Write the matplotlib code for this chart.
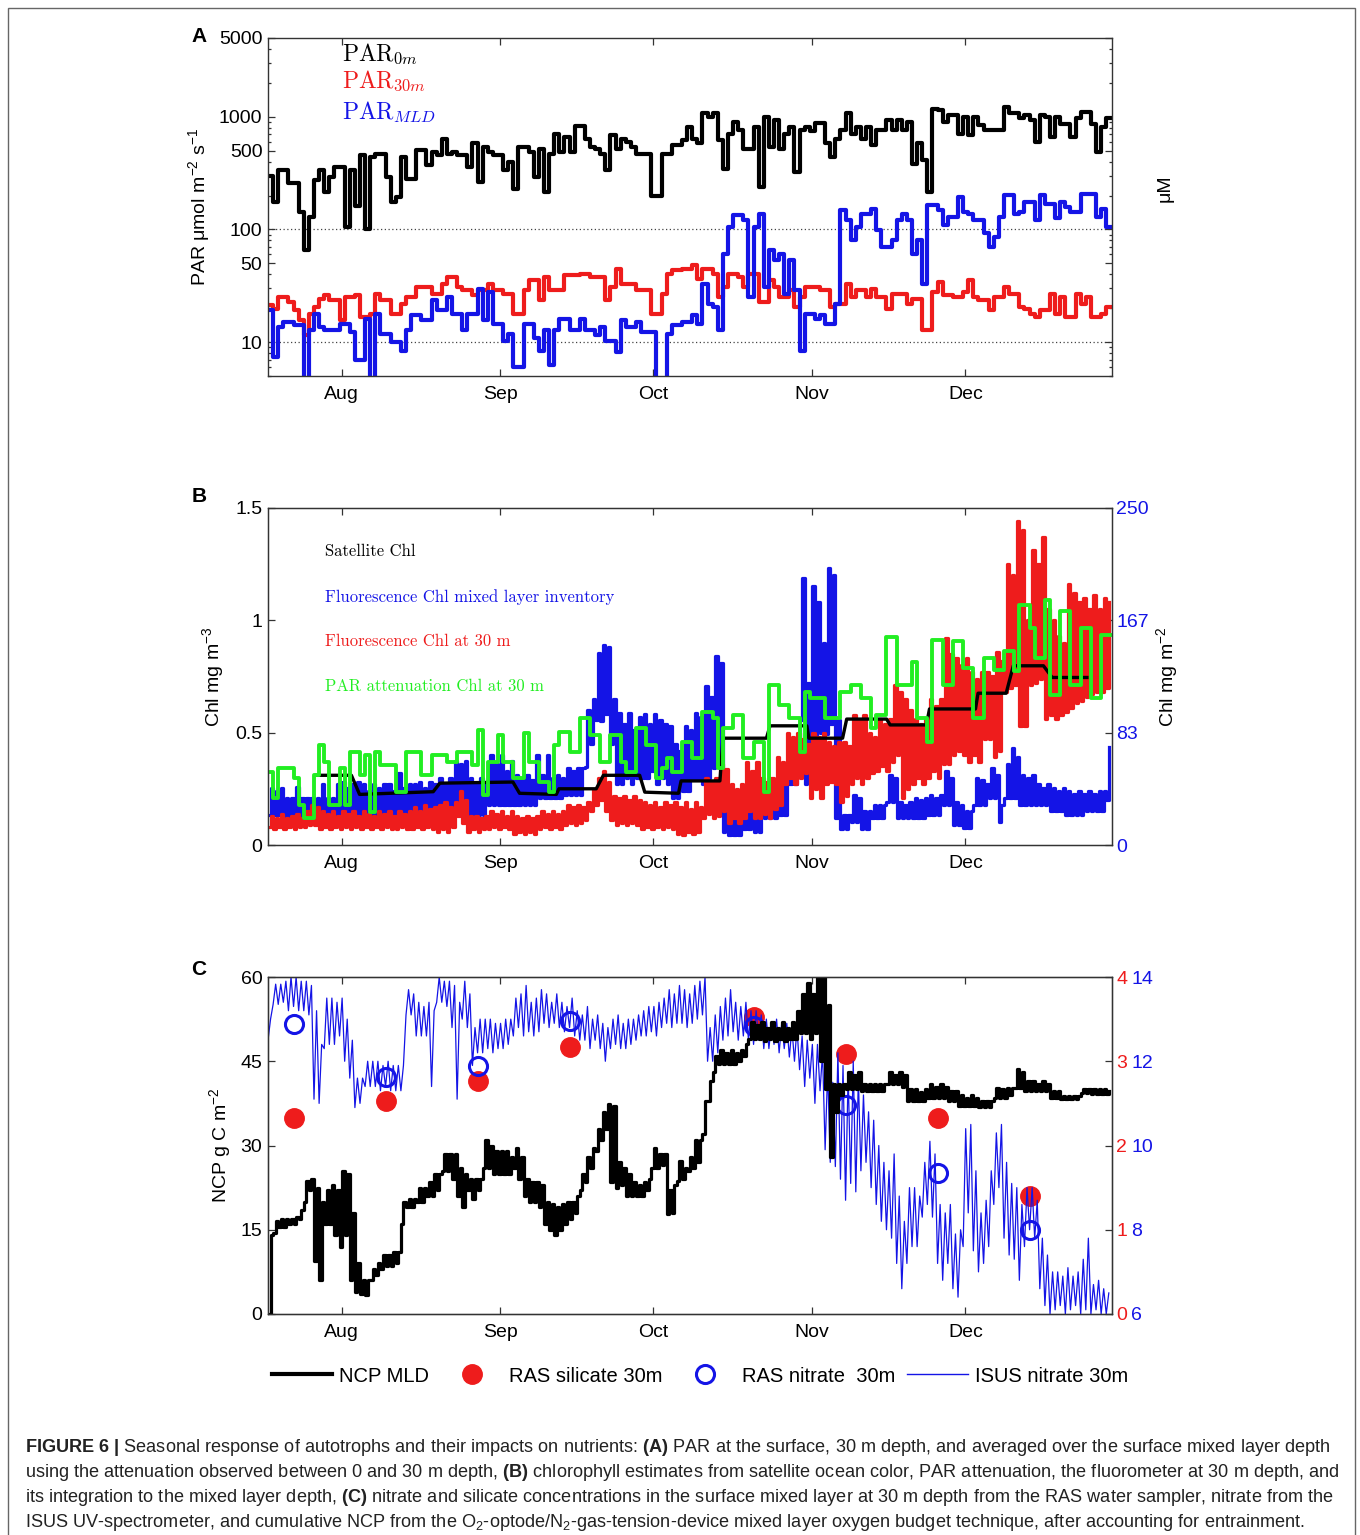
import numpy as np
import pandas as pd
import matplotlib
matplotlib.use('Agg')
import matplotlib.pyplot as plt
import matplotlib.dates as mdates
from matplotlib.lines import Line2D
from matplotlib.patches import Rectangle
from matplotlib.ticker import LogLocator, NullFormatter

plt.rcParams['font.family'] = ['Liberation Sans', 'DejaVu Sans']
plt.rcParams['mathtext.fontset'] = 'custom'
plt.rcParams['mathtext.rm'] = 'Liberation Sans'
plt.rcParams['mathtext.it'] = 'Liberation Sans:italic'
plt.rcParams['mathtext.bf'] = 'Liberation Sans:bold'
plt.rcParams['mathtext.default'] = 'regular'

RED = '#ee1c1c'
BLUE = '#1414e6'
GREEN = '#22ee22'

# ---------------- data (daily values starting at the left edge of the plots, ~17 Jul) ----------------
# panel A: PAR (umol m-2 s-1), daily steps
par_0m = [300, 175, 336, 336, 256, 256, 143, 65, 129, 273,
          336, 215, 291, 360, 360, 105, 336, 160, 455, 100,
          443, 470, 470, 290, 175, 195, 443, 281, 281, 504,
          504, 370, 490, 455, 640, 470, 490, 455, 455, 360,
          580, 263, 540, 490, 455, 455, 336, 400, 230, 540,
          540, 490, 290, 520, 215, 470, 710, 490, 665, 490,
          830, 830, 640, 540, 520, 470, 336, 685, 520, 640,
          600, 540, 470, 470, 470, 200, 200, 470, 470, 560,
          560, 617, 815, 640, 580, 1070, 1000, 1070, 617, 345,
          710, 900, 760, 520, 520, 815, 240, 1000, 540, 935,
          520, 710, 815, 325, 760, 815, 740, 880, 880, 580,
          443, 640, 760, 1070, 710, 815, 640, 815, 560, 760,
          760, 935, 760, 935, 760, 900, 380, 580, 412, 215,
          1180, 1140, 900, 1030, 1030, 710, 1000, 690, 1000, 840,
          760, 760, 760, 760, 1230, 1070, 1070, 970, 1030, 935,
          600, 1030, 1000, 664, 1000, 870, 870, 664, 970, 1110,
          1110, 870, 490, 810, 970]
par_30m = [21.2, 19.8, 25.1, 25.1, 22.7, 19.1, 15.6, 11.5, 17.9, 20.5,
           24.3, 26, 23.5, 23.5, 15.6, 25.1, 25.1, 26, 16.7, 16.7,
           17.9, 26.9, 23.5, 23.5, 17.9, 17.9, 21.9, 25.1, 25.1, 30.8,
           30.8, 30.8, 26.9, 26.9, 33, 37.9, 37.9, 30.8, 28.8, 28.8,
           26, 28.8, 28.8, 33, 28.8, 28.8, 26.9, 26.9, 17.9, 17.9,
           28.8, 35.3, 35.3, 23.5, 37.9, 28.8, 28.8, 28.8, 39.1, 39.1,
           39.1, 40.5, 40.5, 37.9, 37.9, 37.9, 23.5, 30.8, 44.8, 33,
           33, 33, 28.8, 28.8, 28.8, 17.9, 17.9, 26.9, 40.5, 43.4,
           43.4, 44.8, 44.8, 48, 36.6, 44.8, 44.8, 40.5, 25.1, 30.8,
           40.5, 40.5, 37.9, 30.8, 40.5, 40.5, 22.7, 22.7, 35.3, 30.8,
           25.1, 25.1, 28.8, 20.5, 25.1, 30.8, 30.8, 30.8, 28.8, 28.8,
           20.5, 21.9, 21.9, 33, 25.1, 28.8, 28.8, 25.1, 29.8, 25.1,
           25.1, 19.8, 26.9, 26.9, 26.9, 21.9, 24.3, 24.3, 12.7, 12.7,
           27.8, 34.2, 26, 26, 25.1, 25.1, 27.8, 35.3, 25.1, 23.5,
           23.5, 19.1, 25.1, 25.1, 30.8, 26.9, 26.9, 20.5, 19.8, 17.9,
           16.7, 19.1, 19.1, 26.9, 17.9, 25.1, 16.7, 16.7, 26.9, 21.9,
           25.1, 16.7, 16.7, 17.9, 20.5]
par_mld = [19.1, 7.35, 13.6, 15.0, 15.0, 14.1, 14.1, 4, 12.7, 17.9,
           13.6, 12.7, 12.7, 12.7, 14.6, 14.6, 12.2, 6.9, 6.9, 16.1,
           4, 17.9, 11.8, 11.8, 10, 10, 8.4, 12.7, 17.3, 17.3,
           15.6, 15.6, 23.5, 19.1, 19.1, 25.1, 17.9, 17.9, 12.7, 17.9,
           17.9, 29.8, 15.6, 27.8, 14.6, 14.6, 10.3, 11.8, 6.0, 6.0,
           14.6, 14.6, 10.8, 8.4, 12.7, 6.2, 12.7, 16.1, 16.1, 12.7,
           12.7, 16.1, 12.7, 12.7, 11.5, 13.6, 10.3, 10.3, 8.15, 15.6,
           13.6, 13.6, 15.0, 12.2, 12.2, 12.2, 4, 4, 11.8, 14.1,
           14.1, 15.0, 15.0, 17.3, 14.6, 33, 21.9, 20.5, 12.7, 61,
           105, 134, 134, 121, 25.1, 105, 138, 30.8, 65, 53,
           61, 26.9, 53, 28.8, 8.4, 17.9, 17.9, 16.1, 17.3, 14.6,
           14.6, 21.9, 148, 121, 80, 105, 138, 138, 153, 98,
           70, 70, 80, 121, 138, 121, 61, 80, 33, 164,
           164, 148, 109, 128, 128, 195, 143, 138, 121, 121,
           92, 70, 86, 128, 201, 201, 138, 143, 175, 175,
           121, 201, 169, 169, 125, 175, 158, 143, 143, 208,
           208, 208, 128, 153, 105]

# panel B: chlorophyll
par_chl_30m = [0.326, 0.208, 0.341, 0.341, 0.341, 0.297, 0.178, 0.119, 0.119, 0.312,
               0.445, 0.371, 0.178, 0.178, 0.341, 0.178, 0.415, 0.415, 0.312, 0.40,
               0.148, 0.415, 0.356, 0.356, 0.356, 0.237, 0.237, 0.415, 0.415, 0.415,
               0.312, 0.312, 0.40, 0.40, 0.40, 0.371, 0.371, 0.415, 0.415, 0.415,
               0.356, 0.512, 0.223, 0.371, 0.371, 0.49, 0.371, 0.371, 0.297, 0.297,
               0.497, 0.371, 0.371, 0.282, 0.282, 0.237, 0.445, 0.504, 0.504, 0.415,
               0.415, 0.564, 0.564, 0.49, 0.49, 0.371, 0.371, 0.49, 0.49, 0.371,
               0.326, 0.326, 0.519, 0.519, 0.445, 0.445, 0.297, 0.341, 0.386, 0.326,
               0.326, 0.46, 0.46, 0.386, 0.386, 0.593, 0.593, 0.564, 0.341, 0.519,
               0.519, 0.579, 0.579, 0.386, 0.386, 0.46, 0.46, 0.237, 0.712, 0.712,
               0.623, 0.623, 0.564, 0.564, 0.415, 0.682, 0.653, 0.653, 0.653, 0.564,
               0.564, 0.564, 0.682, 0.682, 0.712, 0.712, 0.653, 0.653, 0.519, 0.579,
               0.579, 0.927, 0.927, 0.712, 0.712, 0.712, 0.816, 0.564, 0.564, 0.46,
               0.912, 0.912, 0.712, 0.712, 0.905, 0.905, 0.786, 0.786, 0.564, 0.564,
               0.831, 0.831, 0.779, 0.779, 0.861, 0.861, 0.772, 1.068, 1.068, 0.964,
               0.831, 0.831, 1.09, 0.668, 0.668, 1.039, 1.039, 0.712, 0.712, 0.964,
               0.964, 0.653, 0.653, 0.935, 0.935]

# satellite chl: day of season (days after 1 Jul) and value
sat_days = [26.1, 32.9, 34.5, 48.9, 50.2, 64.5, 65.8, 73.0, 73.5, 80.8, 82.2, 89.3,
            90.3, 96.9, 97.4, 105.0, 105.6, 114.1, 114.8, 122.0, 122.4, 129.0, 129.8,
            137.6, 138.3, 145.4, 146.0, 155.0, 155.5, 161.0, 162.4, 168.3, 170.0, 176.8]
sat_chl = [0.31, 0.31, 0.225, 0.237, 0.275, 0.28, 0.23, 0.225, 0.25, 0.25, 0.31, 0.31,
           0.235, 0.23, 0.285, 0.285, 0.475, 0.475, 0.53, 0.53, 0.475, 0.475, 0.56,
           0.56, 0.534, 0.534, 0.605, 0.605, 0.675, 0.675, 0.797, 0.797, 0.745, 0.745]

# fluorescence chl mixed layer inventory (mg m-2): daily low / high
inv_lo = [22, 22, 22, 20, 20, 20, 20, 20, 20, 20,
          20, 20, 20, 22, 22, 22, 22, 22, 22, 22,
          22, 22, 22, 20, 20, 20, 20, 20, 20, 20,
          20, 20, 20, 25, 25, 25, 25, 25, 22, 22,
          22, 22, 22, 30, 30, 30, 30, 30, 30, 30,
          30, 30, 30, 35, 35, 35, 35, 35, 37, 37,
          37, 37, 58, 75, 93, 92, 97, 75, 45, 45,
          50, 45, 50, 50, 50, 55, 45, 50, 45, 35,
          35, 40, 40, 50, 50, 45, 50, 57, 60, 10,
          7.5, 7.5, 7.5, 12, 12, 10, 10, 20, 20, 20,
          22, 22, 45, 45, 93, 45, 68, 70, 83, 82,
          90, 20, 12, 12, 17, 17, 12, 12, 20, 20,
          20, 32, 32, 20, 20, 20, 20, 20, 20, 22,
          22, 22, 30, 30, 15, 15, 12.5, 12.5, 30, 30,
          30, 35, 35, 17, 35, 35, 35, 30, 30, 30,
          30, 30, 30, 25, 25, 25, 22, 22, 22, 22,
          25, 25, 25, 25, 33]
inv_hi = [42, 40, 42, 35, 35, 43, 35, 35, 35, 35,
          45, 35, 35, 45, 47, 42, 45, 47, 45, 40,
          45, 42, 45, 45, 40, 53, 42, 45, 45, 47,
          42, 47, 45, 50, 45, 50, 62, 60, 62, 50,
          45, 50, 45, 67, 60, 67, 55, 62, 52, 50,
          52, 48, 67, 52, 67, 50, 52, 50, 57, 55,
          57, 57, 100, 108, 142, 148, 147, 108, 98, 90,
          98, 85, 95, 97, 90, 97, 93, 90, 88, 75,
          70, 88, 85, 98, 95, 118, 110, 140, 135, 32,
          22, 20, 22, 30, 28, 30, 28, 37, 35, 37,
          52, 50, 78, 75, 198, 120, 192, 180, 150, 205,
          200, 93, 22, 22, 37, 35, 25, 25, 30, 30,
          30, 52, 50, 32, 30, 32, 35, 33, 35, 37,
          35, 37, 55, 50, 32, 30, 25, 25, 50, 48,
          45, 57, 52, 30, 60, 72, 65, 52, 50, 52,
          45, 42, 45, 42, 40, 42, 40, 38, 40, 38,
          40, 38, 40, 40, 73]

# fluorescence chl at 30 m (mg m-3): daily low / high
fl_lo = [.08, .07, .08, .07, .08, .07, .08, .08, .09, .09,
         .07, .08, .07, .08, .07, .08, .07, .08, .07, .08,
         .07, .08, .07, .08, .07, .07, .08, .07, .07, .08,
         .07, .08, .07, .06, .07, .06, .08, .13, .10, .06,
         .07, .06, .07, .07, .08, .07, .08, .07, .05, .06,
         .05, .06, .05, .07, .08, .07, .08, .07, .09, .10,
         .09, .10, .11, .15, .18, .20, .15, .11, .09, .10,
         .09, .10, .09, .07, .08, .07, .08, .07, .08, .07,
         .05, .045, .06, .05, .06, .12, .14, .12, .13, .15,
         .10, .12, .10, .12, .15, .12, .12, .14, .12, .16,
         .18, .27, .30, .27, .30, .32, .21, .25, .21, .27,
         .28, .27, .19, .22, .27, .30, .27, .30, .32, .33,
         .35, .33, .37, .40, .21, .25, .27, .30, .27, .30,
         .33, .30, .36, .36, .40, .42, .40, .37, .40, .37,
         .47, .47, .39, .42, .68, .70, .71, .53, .53, .71,
         .72, .74, .56, .58, .56, .58, .59, .61, .63, .64,
         .66, .67, .68, .68, .70]
fl_hi = [.13, .12, .14, .12, .13, .14, .12, .15, .18, .17,
         .15, .14, .15, .13, .15, .14, .15, .13, .15, .14,
         .13, .15, .14, .15, .13, .15, .14, .15, .17, .15,
         .18, .16, .17, .18, .19, .17, .19, .24, .20, .13,
         .13, .12, .13, .15, .14, .15, .13, .15, .13, .12,
         .13, .12, .13, .15, .14, .15, .14, .15, .18, .17,
         .18, .17, .19, .25, .30, .33, .28, .22, .21, .22,
         .20, .22, .20, .19, .18, .19, .17, .19, .18, .19,
         .17, .19, .16, .19, .17, .30, .28, .30, .36, .34,
         .27, .25, .27, .37, .33, .37, .30, .28, .30, .39,
         .37, .50, .48, .50, .47, .45, .50, .48, .50, .46,
         .44, .46, .46, .44, .58, .55, .58, .50, .48, .56,
         .54, .56, .71, .68, .65, .60, .56, .54, .56, .65,
         .62, .65, .92, .85, .83, .80, .83, .77, .74, .77,
         .77, .75, .86, .82, 1.25, 1.20, 1.44, 1.40, 1.00, 1.31,
         1.25, 1.37, 1.05, 1.00, .93, .90, 1.16, 1.12, 1.08, 1.10,
         1.05, 1.11, 1.05, 1.10, 1.08]

# panel C: cumulative NCP (g C m-2): daily low / high
ncp_lo = [0, 14.5, 15.5, 15.5, 16, 16, 17, 20, 22, 9.5,
          6, 16, 16, 14, 12, 14, 6, 4, 3.5, 3.3,
          6, 7, 8, 8.5, 8.5, 9, 16, 19, 19, 20,
          20, 21, 21, 22, 25.5, 25.5, 24, 21, 19, 22,
          20.5, 22, 26, 26, 25, 25, 25, 25, 26, 24,
          21, 20, 20, 19, 16, 15, 14, 15, 16, 17,
          18, 22, 23.5, 26, 29, 31, 33, 23.5, 22.5, 23,
          21, 21, 21, 21, 22, 26, 26, 26.6, 17.8, 18,
          23.7, 24, 25.5, 26, 27, 32, 38, 43, 44.5, 44.5,
          44.5, 44.5, 45, 46, 49, 49, 49, 48.6, 49, 48.6,
          49, 48.6, 49, 49, 50, 50, 49, 50, 45, 40,
          28, 36, 39, 40, 40, 40, 39.7, 39.7, 39.7, 39.7,
          39.7, 41, 41, 41, 40.5, 38, 38, 38, 38, 38.5,
          38.5, 38.5, 38.5, 38, 38, 37, 37, 37, 37, 36.8,
          36.8, 36.8, 38.5, 38.5, 38.5, 39, 40.3, 40.3, 39.7, 39.7,
          39.7, 39.7, 39.7, 38.5, 38.5, 38.2, 38.2, 38.2, 38.2, 39.4,
          39.4, 39.1, 39.1, 39.1, 39.1]
ncp_hi = [14, 16.5, 17, 17, 17, 17.2, 18.5, 23.7, 24, 22.5,
          20, 22, 23, 22, 25.5, 25, 18, 9, 6, 6,
          8, 9, 10.5, 10.5, 11, 11, 20, 20.5, 20.5, 22.5,
          22.5, 23.5, 25, 25, 28.5, 28.5, 28.5, 26, 25, 24,
          24, 24, 31, 30, 29, 29, 29, 28, 29.5, 28,
          24, 23.5, 23.5, 23, 20, 19.5, 19, 19.5, 20, 20,
          21, 25, 28, 29.6, 33, 36, 37.3, 37, 27, 26,
          25, 23.5, 23, 23.5, 24, 29.5, 28.5, 28.5, 22, 23,
          27.3, 26, 28, 31, 31, 38, 41.5, 46, 47, 46.5,
          47, 46.5, 47, 48, 52, 51.5, 52, 51, 52, 51,
          52, 51, 52, 54, 57, 59, 57, 60, 60, 55,
          41, 41, 41, 43, 42.5, 43, 40.9, 40.9, 40.9, 40.9,
          40.9, 43, 42.5, 43, 42.5, 40, 40, 39.5, 40, 41,
          40.5, 41, 40.5, 39.7, 39.7, 39, 38.5, 39, 38.5, 38,
          38, 38, 40.3, 40, 40.3, 40.3, 43.6, 43, 41.5, 41.5,
          41, 41.5, 41, 39.7, 39.7, 38.9, 38.9, 38.9, 38.9, 40,
          40, 40, 40, 40, 39.7]

# ISUS nitrate at 30 m (uM): daily low / high
isus_lo = [12.5, 13.35, 13.35, 13.4, 13.2, 13.3, 13.2, 13.2, 13.1, 11.1,
           11.0, 12.3, 12.4, 12.4, 12.6, 12.0, 11.6, 10.9, 11.0, 11.4,
           11.4, 11.4, 11.3, 11.4, 11.3, 11.3, 11.3, 13.1, 13.1, 12.6,
           12.6, 12.6, 11.4, 13.4, 13.4, 13.3, 12.8, 11.1, 13.0, 12.8,
           11.9, 12.2, 12.2, 12.3, 12.2, 12.3, 12.3, 12.4, 12.6, 12.8,
           12.6, 12.7, 12.6, 12.7, 12.9, 12.8, 12.9, 12.8, 12.7, 12.8,
           12.6, 12.5, 12.5, 12.3, 12.5, 12.3, 12.0, 12.3, 12.4, 12.3,
           12.3, 12.4, 12.5, 12.6, 12.6, 12.7, 12.6, 12.8, 12.9, 12.8,
           12.9, 12.9, 12.8, 12.9, 13.0, 13.1, 12.0, 12.0, 12.2, 12.5,
           12.6, 12.7, 12.5, 12.6, 12.5, 12.4, 12.5, 12.3, 12.3, 12.4,
           12.2, 12.3, 12.1, 12.0, 11.8, 11.4, 11.6, 11.0, 11.3, 9.9,
           9.6, 9.5, 9.2, 8.7, 9.1, 8.9, 9.4, 9.6, 9.0, 8.6,
           8.2, 8.0, 7.8, 7.2, 6.6, 7.2, 7.6, 7.6, 8.3, 8.6,
           8.3, 7.2, 6.8, 7.2, 6.6, 6.4, 7.6, 8.4, 7.5, 7.0,
           7.2, 7.6, 8.6, 9.0, 7.8, 7.4, 7.3, 6.8, 7.6, 8.0,
           7.8, 6.6, 6.2, 6.0, 6.1, 6.2, 6.0, 6.1, 6.2, 6.0,
           6.1, 6.0, 6.1, 6.0, 6.0]
isus_hi = [13.0, 13.83, 13.83, 13.9, 14.0, 14.0, 13.9, 13.9, 13.8, 13.2,
           12.4, 13.5, 13.5, 13.4, 13.5, 13.0, 12.5, 11.6, 11.6, 12.0,
           12.0, 12.0, 11.9, 12.0, 11.9, 11.9, 11.9, 13.7, 13.6, 13.4,
           13.3, 13.4, 13.2, 14.0, 13.9, 13.9, 13.8, 13.4, 13.9, 13.6,
           12.8, 13.0, 13.0, 13.0, 12.9, 12.9, 13.0, 13.0, 13.5, 13.6,
           13.8, 13.4, 13.5, 13.7, 13.6, 13.4, 13.6, 13.4, 13.3, 13.5,
           13.2, 13.1, 13.3, 13.0, 13.1, 12.9, 12.8, 13.0, 13.1, 12.9,
           13.0, 13.0, 13.1, 13.2, 13.3, 13.3, 13.4, 13.5, 13.7, 13.6,
           13.8, 13.7, 13.6, 13.8, 13.9, 14.0, 12.8, 13.1, 13.3, 13.5,
           13.7, 13.4, 13.3, 13.4, 13.2, 13.2, 13.1, 13.0, 12.9, 13.0,
           12.9, 12.9, 12.8, 12.8, 12.6, 12.5, 12.4, 12.4, 12.2, 11.8,
           11.5, 12.2, 11.9, 11.7, 12.0, 11.6, 11.2, 10.8, 10.6, 10.0,
           9.6, 9.4, 9.8, 8.8, 8.2, 9.0, 9.0, 8.8, 9.6, 10.1,
           9.8, 8.6, 8.4, 8.6, 7.9, 8.0, 10.4, 10.5, 9.4, 8.4,
           8.7, 9.4, 10.3, 10.5, 9.6, 9.1, 9.0, 8.6, 9.0, 9.0,
           8.7, 7.8, 7.4, 7.0, 7.0, 6.9, 7.1, 6.9, 7.0, 7.3,
           7.8, 6.7, 6.8, 6.6, 6.5]

# RAS water sampler (days after 1 Jul)
ras_days = [21.7, 39.7, 57.7, 75.6, 111.6, 129.6, 147.6, 165.6]
ras_silicate = [2.33, 2.53, 2.77, 3.17, 3.53, 3.09, 2.33, 1.40]
ras_nitrate = [12.88, 11.63, 11.89, 12.96, 12.84, 10.97, 9.34, 8.00]

# ---------------- helpers ----------------
W, H = 1360, 1535
season_start = pd.Timestamp('2013-07-01')
t_left = pd.Timestamp('2013-07-17 14:00')
t_right = pd.Timestamp('2013-12-29 17:00')


def to_dates(days):
    return season_start + pd.to_timedelta(days, unit='D')


def steps(vals):
    x = pd.date_range(t_left, periods=len(vals) + 1, freq='D')
    return x, np.append(vals, vals[-1])


def zigzag(lo, hi):
    x = pd.date_range(t_left, periods=2 * len(lo), freq='12h')
    return x, np.column_stack([lo, hi]).ravel()


def box(x0, y0, x1, y1):
    return [x0 / W, 1 - y1 / H, (x1 - x0) / W, (y1 - y0) / H]


def style(ax, right=True):
    ax.set_xlim(t_left, t_right)
    ax.xaxis.set_major_locator(mdates.MonthLocator())
    ax.xaxis.set_major_formatter(mdates.DateFormatter('%b'))
    ax.tick_params(which='both', direction='in', top=True, right=right,
                   labelsize=14, width=0.9, color='#333333')
    ax.tick_params(which='major', length=5)
    ax.tick_params(which='minor', length=2.5)
    ax.tick_params(axis='x', pad=7)
    ax.tick_params(axis='y', pad=4)
    for sp in ax.spines.values():
        sp.set_color('#333333')
        sp.set_linewidth(1)


fig = plt.figure(figsize=(13.6, 15.35), dpi=100)
fig.patches.append(Rectangle((8 / W, -0.01), 1347 / W, 1 - 8 / H + 0.01,
                             transform=fig.transFigure, fill=False,
                             ec='#666666', lw=1))

# ---------------- panel A ----------------
axA = fig.add_axes(box(268, 38, 1112, 376))
for vals, col in [(par_0m, 'black'), (par_30m, RED), (par_mld, BLUE)]:
    x, y = steps(vals)
    axA.step(x, y, where='post', color=col, lw=3.0)
axA.set_yscale('log')
axA.set_ylim(5, 5000)
for yref in (10, 100):
    axA.axhline(yref, color='#444444', ls=(0, (1, 2)), lw=0.9, zorder=0.5)
axA.set_yticks([10, 50, 100, 500, 1000, 5000],
               labels=['10', '50', '100', '500', '1000', '5000'])
axA.yaxis.set_minor_locator(LogLocator(subs=np.arange(2, 10)))
axA.yaxis.set_minor_formatter(NullFormatter())
style(axA)
axA.set_ylabel('PAR μmol m$^{-2}$ s$^{-1}$', fontsize=14, va='center')
axA.yaxis.set_label_coords(-0.0818, 0.5)
for txt, col, yy in [(r'$\mathrm{PAR}_{\mathrm{0}\mathit{m}}$', 'black', 0.9328),
                     (r'$\mathrm{PAR}_{\mathrm{30}\mathit{m}}$', RED, 0.8512),
                     (r'$\mathrm{PAR}_{\mathit{MLD}}$', BLUE, 0.7595)]:
    axA.text(0.0873, yy, txt, color=col, fontsize=17, math_fontfamily='cm',
             transform=axA.transAxes, va='baseline', ha='left')
fig.text(1165 / W, 1 - 188 / H, 'μM', rotation=90, fontsize=14,
         ha='center', va='center')

# ---------------- panel B ----------------
axB = fig.add_axes(box(268, 507.7, 1112, 845))
axB2 = axB.twinx()
axB2.set_zorder(axB.get_zorder() - 1)
axB.patch.set_visible(False)
x, y = zigzag(inv_lo, inv_hi)
axB2.plot(x, y, color=BLUE, lw=2.3, drawstyle='steps-post')
axB2.set_ylim(0, 250)
x, y = zigzag(fl_lo, fl_hi)
axB.plot(x, y, color=RED, lw=2.3, drawstyle='steps-post')
axB.plot(to_dates(sat_days), sat_chl, color='black', lw=2.4)
x, y = steps(par_chl_30m)
axB.step(x, y, where='post', color=GREEN, lw=2.8)
axB.set_ylim(0, 1.5)
axB.set_yticks([0, 0.5, 1, 1.5], labels=['0', '0.5', '1', '1.5'])
style(axB, right=False)
axB2.set_yticks([0, 250 / 3, 500 / 3, 250], labels=['0', '83', '167', '250'])
axB2.tick_params(axis='y', direction='in', length=5, width=0.9, color='#333333',
                 labelcolor=BLUE, labelsize=14, pad=3)
for sp in axB2.spines.values():
    sp.set_color('#333333')
axB.set_ylabel('Chl mg m$^{-3}$', fontsize=14, va='center')
axB.yaxis.set_label_coords(-0.0652, 0.5)
axB2.set_ylabel('Chl mg m$^{-2}$', fontsize=14, va='center', rotation=90)
axB2.yaxis.set_label_coords(1.0652, 0.5)
for txt, col, yy in [('Satellite Chl', 'black', 0.8696),
                     ('Fluorescence Chl mixed layer inventory', BLUE, 0.7362),
                     ('Fluorescence Chl at 30 m', RED, 0.6028),
                     ('PAR attenuation Chl at 30 m', GREEN, 0.4694)]:
    axB.text(0.0675, yy, txt, color=col, fontsize=12, family='cmr10',
             transform=axB.transAxes, va='center', ha='left')

# ---------------- panel C ----------------
axC = fig.add_axes(box(268, 977, 1112, 1314))
axSi = axC.twinx()
axNo = axC.twinx()
axSi.set_zorder(1)
axNo.set_zorder(2)
axC.set_zorder(3)
axC.patch.set_visible(False)
axSi.plot(to_dates(ras_days), ras_silicate, ls='none', marker='o', ms=14,
          mfc=RED, mec=RED)
x, y = zigzag(isus_lo, isus_hi)
axNo.plot(x, y, color=BLUE, lw=0.9)
axNo.plot(to_dates(ras_days), ras_nitrate, ls='none', marker='o', ms=13,
          mfc='none', mec=BLUE, mew=2.2)
x, y = zigzag(ncp_lo, ncp_hi)
axC.plot(x, y, color='black', lw=2.3, drawstyle='steps-post')
axC.set_ylim(0, 60)
axC.set_yticks([0, 15, 30, 45, 60])
style(axC, right=False)
axSi.set_ylim(0, 4)
axSi.set_yticks([0, 1, 2, 3, 4])
axSi.tick_params(axis='y', direction='in', length=5, width=0.9, color='#333333',
                 labelcolor=RED, labelsize=14, pad=3)
axNo.set_ylim(6, 14)
axNo.set_yticks([6, 8, 10, 12, 14])
axNo.tick_params(axis='y', length=0, labelcolor=BLUE, labelsize=14, pad=14)
for a in (axSi, axNo):
    for sp in a.spines.values():
        sp.set_color('#333333')
axC.set_ylabel('NCP g C m$^{-2}$', fontsize=14, va='center')
axC.yaxis.set_label_coords(-0.0569, 0.5)

handles = [Line2D([], [], color='black', lw=3),
           Line2D([], [], ls='none', marker='o', ms=14, mfc=RED, mec=RED),
           Line2D([], [], ls='none', marker='o', ms=13, mfc='none', mec=BLUE, mew=2.2),
           Line2D([], [], color=BLUE, lw=1)]
labels = ['NCP MLD', 'RAS silicate 30m', 'RAS nitrate  30m', 'ISUS nitrate 30m']
fig.legend(handles, labels, loc='center', bbox_to_anchor=(700 / W, 1 - 1376 / H),
           ncol=4, frameon=False, fontsize=14.5, handlelength=3.0,
           handletextpad=0.35, columnspacing=0.6)

# panel letters
for letter, ypx in [('A', 36), ('B', 497), ('C', 970)]:
    fig.text(199 / W, 1 - ypx / H, letter, fontsize=15, fontweight='bold',
             ha='center', va='center')

# ---------------- caption ----------------
caption = [
    r'$\mathbf{FIGURE\ 6\ |}$ Seasonal response of autotrophs and their impacts on nutrients: '
    r'$\mathbf{(A)}$ PAR at the surface, 30 m depth, and averaged over the surface mixed layer depth',
    r'using the attenuation observed between 0 and 30 m depth, $\mathbf{(B)}$ chlorophyll estimates '
    r'from satellite ocean color, PAR attenuation, the fluorometer at 30 m depth, and',
    r'its integration to the mixed layer depth, $\mathbf{(C)}$ nitrate and silicate concentrations in '
    r'the surface mixed layer at 30 m depth from the RAS water sampler, nitrate from the',
    r'ISUS UV-spectrometer, and cumulative NCP from the O$_2$-optode/N$_2$-gas-tension-device mixed '
    r'layer oxygen budget technique, after accounting for entrainment.',
]
renderer = fig.canvas.get_renderer()
probe = fig.text(0, 0, caption[0], fontsize=12.5)
size = 12.5 * 1305 / probe.get_window_extent(renderer).width
probe.remove()
for i, line in enumerate(caption):
    fig.text(25 / W, 1 - (1452 + 25 * i) / H, line, fontsize=size,
             color='#222222', ha='left', va='baseline')

fig.savefig('out.png', dpi=100)
